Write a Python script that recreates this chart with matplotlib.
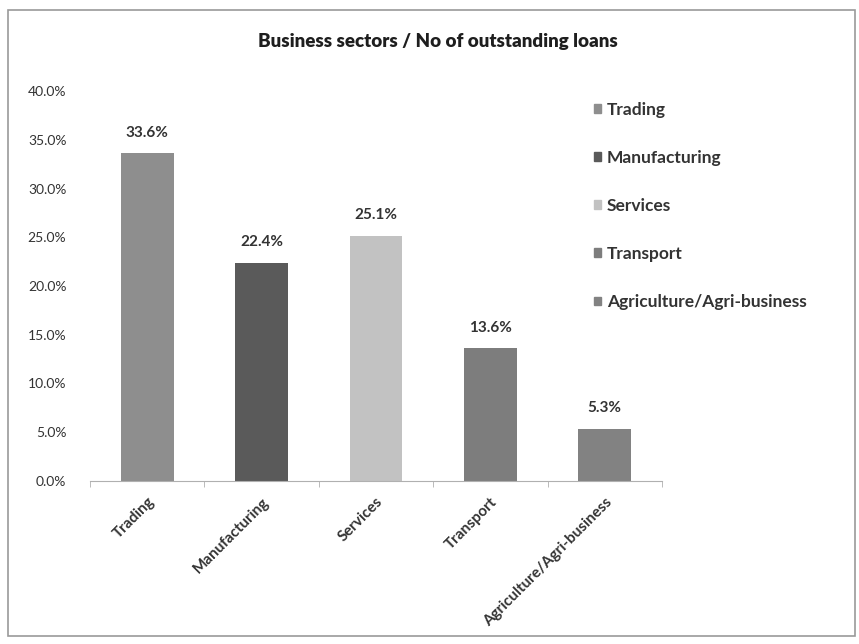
import matplotlib.pyplot as plt
from matplotlib.patches import Rectangle
from matplotlib.ticker import FuncFormatter, FixedLocator

plt.rcParams["font.family"] = ["Lato", "DejaVu Sans"]

sectors = ["Trading", "Manufacturing", "Services", "Transport", "Agriculture/Agri-business"]
shares = [33.6, 22.4, 25.1, 13.6, 5.3]
bar_colors = ["#8e8e8e", "#5a5a5a", "#c2c2c2", "#7d7d7d", "#828282"]

TEXT = "#333333"

fig = plt.figure(figsize=(8.59, 6.44), dpi=100)
ax = fig.add_axes([90 / 859, 1 - 481 / 644, 572 / 859, 390 / 644])

x = list(range(len(sectors)))
ax.bar(x, shares, width=0.46, color=bar_colors, zorder=2)

for xi, v in zip(x, shares):
    ax.annotate(f"{v:.1f}%", xy=(xi, v), xytext=(0, 10), textcoords="offset points",
                ha="center", va="bottom", fontsize=11, fontweight="bold", color=TEXT)

ax.set_xlim(-0.5, len(sectors) - 0.5)
ax.set_ylim(0, 40)
ax.set_yticks([0, 5, 10, 15, 20, 25, 30, 35, 40])
ax.yaxis.set_major_formatter(FuncFormatter(lambda v, _: f"{v:.1f}%"))
ax.tick_params(axis="y", length=0, labelsize=10, labelcolor=TEXT, pad=17)

ax.set_xticks(x)
ax.set_xticklabels([])
ax.xaxis.set_minor_locator(FixedLocator([i - 0.5 for i in range(len(sectors) + 1)]))
ax.tick_params(axis="x", which="major", length=0)
ax.tick_params(axis="x", which="minor", length=4, color="#b0b0b0", direction="out")
for xi, name in zip(x, sectors):
    ax.annotate(name, xy=(xi, 0), xycoords=("data", "axes fraction"),
                xytext=(0, -10), textcoords="offset points",
                rotation=45, ha="right", va="top", rotation_mode="anchor",
                fontsize=11, fontweight="bold", color=TEXT)

for side in ("top", "right", "left"):
    ax.spines[side].set_visible(False)
ax.spines["bottom"].set_color("#b0b0b0")

handles = [Rectangle((0, 0), 1, 1, color=c) for c in bar_colors]
fig.legend(handles, sectors, loc="upper left", bbox_to_anchor=(578 / 859, 1 - 86 / 644),
           frameon=False, labelspacing=1.85, handlelength=0.4,
           handleheight=0.4, handletextpad=0.35, labelcolor=TEXT,
           prop={"weight": "bold", "size": 12.5})

fig.text(438 / 859, 1 - 42 / 644, "Business sectors / No of outstanding loans",
         ha="center", va="center", fontsize=13.5, fontweight="heavy", color="#1e1e1e")

fig.patches.append(Rectangle((8 / 859, 1 - 636 / 644), 847 / 859, 626 / 644,
                             transform=fig.transFigure, fill=False,
                             edgecolor="#9a9a9a", linewidth=1.2))

fig.savefig("out.png", dpi=100)
